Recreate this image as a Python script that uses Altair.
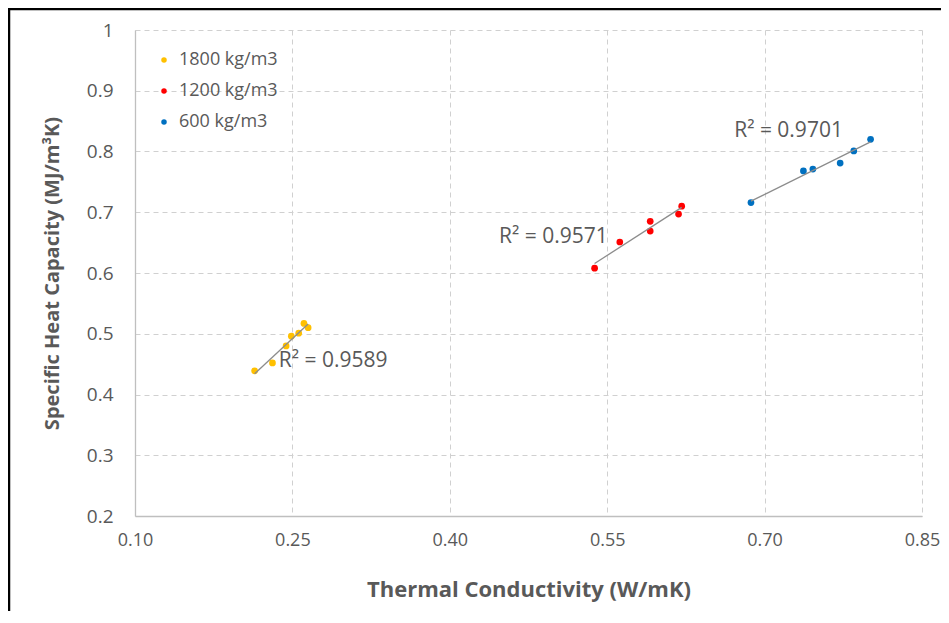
import altair as alt
import pandas as pd

# ---- data ----
k_1800 = [0.214, 0.231, 0.244, 0.249, 0.256, 0.261, 0.265]
c_1800 = [0.439, 0.452, 0.480, 0.496, 0.501, 0.517, 0.510]

k_1200 = [0.538, 0.562, 0.591, 0.591, 0.618, 0.621]
c_1200 = [0.608, 0.651, 0.685, 0.669, 0.697, 0.710]

k_600 = [0.687, 0.737, 0.746, 0.772, 0.785, 0.801]
c_600 = [0.716, 0.768, 0.771, 0.781, 0.801, 0.820]

series_names = ["1800 kg/m3", "1200 kg/m3", "600 kg/m3"]
series_colors = ["#FFC000", "#FF0000", "#0070C0"]

r2_text = ["R\u00b2 = 0.9589", "R\u00b2 = 0.9571", "R\u00b2 = 0.9701"]
r2_x = [0.237, 0.447, 0.671]
r2_y = [0.455, 0.659, 0.834]

x_ticks = [0.10, 0.25, 0.40, 0.55, 0.70, 0.85]
y_ticks = [0.2, 0.3, 0.4, 0.5, 0.6, 0.7, 0.8, 0.9, 1.0]

rows = []
for name, ks, cs in zip(series_names, [k_1800, k_1200, k_600], [c_1800, c_1200, c_600]):
    for k, c in zip(ks, cs):
        rows.append({"series": name, "k": k, "c": c})
df = pd.DataFrame(rows)
labels = pd.DataFrame({"text": r2_text, "x": r2_x, "y": r2_y})

W, H = 787, 486
FONT = "Open Sans"
GRAY = "#595959"

xscale = alt.Scale(domain=[0.10, 0.85], nice=False, zero=False)
yscale = alt.Scale(domain=[0.2, 1.0], nice=False, zero=False)

xaxis = alt.Axis(values=x_ticks, format=".2f", title="Thermal Conductivity (W/mK)",
                 grid=True, gridDash=[5, 4], gridColor="#d0d0d0",
                 domainColor="#bfbfbf", domainWidth=1.3, ticks=False,
                 labelFlush=False, labelOverlap=False,
                 labelPadding=15, labelFontSize=18, labelColor=GRAY, labelFont=FONT,
                 titleFontSize=22, titleFont=FONT, titleColor=GRAY, titleFontWeight="bold",
                 titlePadding=30)
yaxis = alt.Axis(values=y_ticks, format=".1~f", title="Specific Heat Capacity  (MJ/m\u00b3K)",
                 grid=True, gridDash=[5, 4], gridColor="#d0d0d0",
                 domainColor="#bfbfbf", domainWidth=1.3, ticks=False,
                 labelFlush=False, labelOverlap=False,
                 labelPadding=22, labelFontSize=19, labelColor=GRAY, labelFont=FONT,
                 titleFontSize=20, titleFont=FONT, titleColor=GRAY, titleFontWeight="bold",
                 titlePadding=24)

base = alt.Chart(df)

points = base.mark_circle(size=45, opacity=1).encode(
    x=alt.X("k:Q", scale=xscale, axis=xaxis),
    y=alt.Y("c:Q", scale=yscale, axis=yaxis),
    color=alt.Color("series:N",
                    scale=alt.Scale(domain=series_names, range=series_colors),
                    sort=series_names,
                    legend=alt.Legend(title=None, orient="none", legendX=20, legendY=21,
                                      symbolType="circle", symbolSize=30,
                                      labelFontSize=18, labelFont=FONT, labelColor=GRAY,
                                      rowPadding=13, labelOffset=6, padding=0)),
)

trend = base.transform_regression("k", "c", groupby=["series"]).mark_line(
    color="#8c8c8c", strokeWidth=1.3
).encode(
    x=alt.X("k:Q", scale=xscale),
    y=alt.Y("c:Q", scale=yscale),
    detail="series:N",
)

r2 = alt.Chart(labels).mark_text(align="left", baseline="middle", fontSize=21,
                                 font=FONT, color=GRAY).encode(
    x=alt.X("x:Q", scale=xscale),
    y=alt.Y("y:Q", scale=yscale),
    text="text:N",
)

frame_top = alt.Chart(pd.DataFrame({"a": [0]})).mark_rule(
    color="black", strokeWidth=2.5, clip=False
).encode(x=alt.value(-127), x2=alt.value(W + 30), y=alt.value(-21))
frame_left = alt.Chart(pd.DataFrame({"a": [0]})).mark_rule(
    color="black", strokeWidth=2.5, clip=False
).encode(x=alt.value(-126), y=alt.value(-22), y2=alt.value(H + 130))

chart = alt.layer(points, trend, r2, frame_top, frame_left).properties(
    width=W, height=H,
    autosize=alt.AutoSizeParams(type="none"),
    padding={"left": 127, "top": 22, "right": 19, "bottom": 95},
    background="white",
).configure_view(stroke=None)

chart.save("out.html", embed_options={"renderer": "svg", "actions": False})
